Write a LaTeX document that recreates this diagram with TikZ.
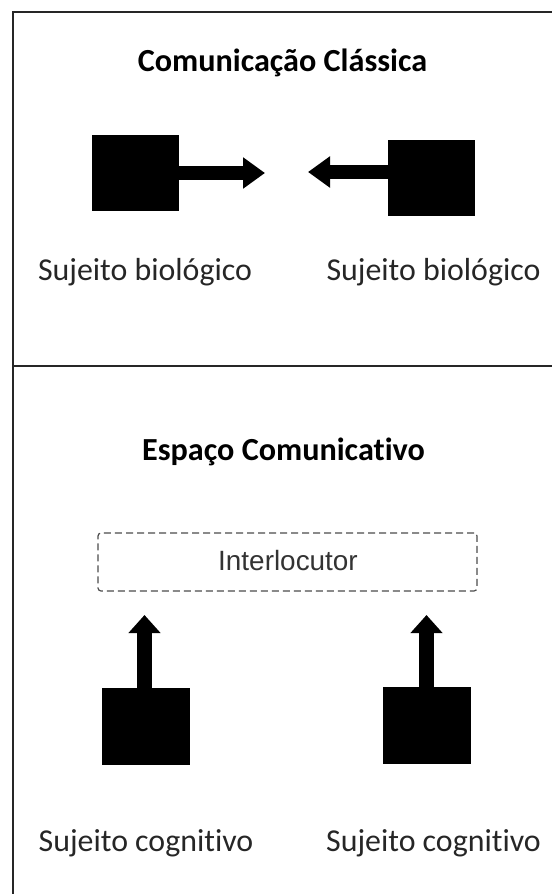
\documentclass[tikz,border=0pt]{standalone}
\usepackage{fontspec}
\setmainfont[Ligatures=NoCommon]{Carlito}
\newfontfamily\arialfont{Liberation Sans}
\usetikzlibrary{arrows.meta}
\begin{document}
\begin{tikzpicture}[x=1bp,y=-1bp,
  blockbox/.style={fill=black,draw=none,inner sep=0pt,minimum width=87bp,minimum height=76bp},
  blockarrow/.style={line width=14bp,-{Triangle[width=30bp,length=22bp]}},
  lbl/.style={anchor=base,inner sep=0pt,font=\fontsize{32}{36}\selectfont,text=black!85},
  ttl/.style={anchor=base,inner sep=0pt,font=\fontsize{32.3}{36}\selectfont\bfseries},
  frame/.style={line width=2bp,black!85}]
\useasboundingbox (0,0) rectangle (552,894);
% frame
\coordinate (tl) at (12.5,12);
\coordinate (tr) at (552,12);
\coordinate (bl) at (12.5,894);
\coordinate (ml) at (12.5,366);
\coordinate (mr) at (552,366);
\draw[frame] (tr) -- (tl) -- (bl);
\draw[frame] (ml) -- (mr);
% top part
\node[ttl] (t1) at (282.5,71) {Comunicação Clássica};
\node[blockbox] (s1) at (135,173) {};
\node[blockbox] (s2) at (431.5,178) {};
\coordinate (p1) at (265,173);
\coordinate (p2) at (308,172);
\draw[blockarrow] (s1.east |- p1) -- (p1);
\draw[blockarrow] (s2.west |- p2) -- (p2);
\node[lbl] (l1) at (145,280) {Sujeito biológico};
\node[lbl] (l2) at (433.5,280) {Sujeito biológico};
% bottom part
\node[ttl] (t2) at (283.5,460) {Espaço Comunicativo};
\node[draw=black!70,dashed,dash pattern=on 7bp off 4bp,line width=1.2bp,rounded corners=3bp,
  minimum width=379bp,minimum height=58bp,inner sep=0pt] (ib) at (287.5,562) {};
\node[anchor=base,inner sep=0pt,font=\arialfont\fontsize{28}{32}\selectfont,text=black!80] (it) at (288,570) {Interlocutor};
\node[blockbox,minimum width=88bp,minimum height=77bp] (s3) at (146,726.5) {};
\node[blockbox,minimum width=88bp,minimum height=77bp] (s4) at (427,725.5) {};
\coordinate (q1) at (144.5,615);
\coordinate (q2) at (426.5,615);
\draw[blockarrow,line width=15bp,-{Triangle[width=31bp,length=18bp]}] (s3.north -| q1) -- (q1);
\draw[blockarrow,line width=15bp,-{Triangle[width=31bp,length=18bp]}] (s4.north -| q2) -- (q2);
\node[lbl] (l3) at (146,851) {Sujeito cognitivo};
\node[lbl] (l4) at (433.5,851) {Sujeito cognitivo};
\end{tikzpicture}
\end{document}
